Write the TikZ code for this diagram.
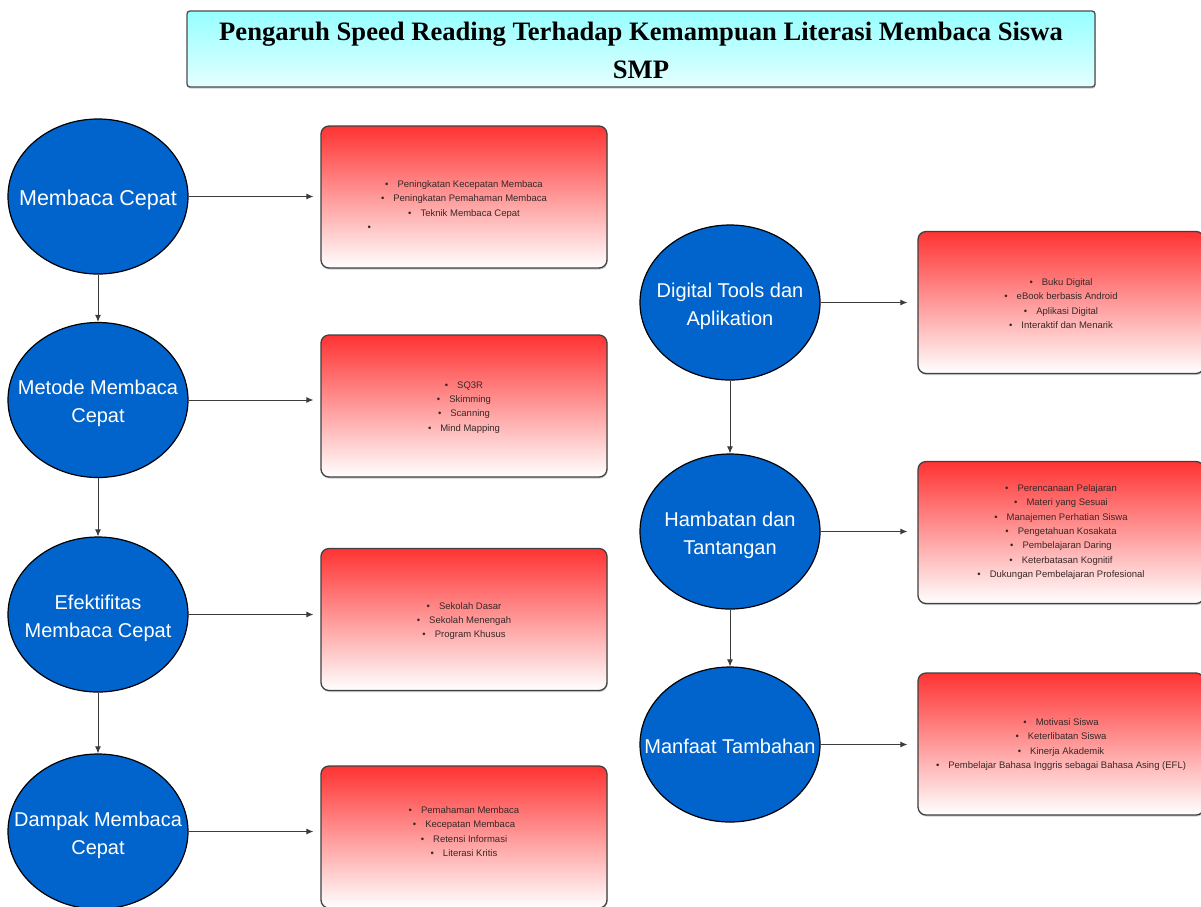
\documentclass[tikz,border=0pt]{standalone}
\usepackage{fontspec}
\setmainfont{Liberation Sans}
\newfontfamily\titlefont{Liberation Serif}
\usetikzlibrary{shapes.geometric,arrows.meta,shadows}
\definecolor{ellblue}{RGB}{0,100,204}
\definecolor{boxred}{RGB}{255,51,51}
\definecolor{titletop}{RGB}{150,255,255}
\definecolor{titlebot}{RGB}{228,255,255}
\definecolor{boxtext}{RGB}{55,40,40}
\definecolor{arrgray}{RGB}{60,60,60}
\tikzset{
  topic/.style={ellipse, draw=black, line width=1.2pt, fill=ellblue,
    minimum width=180pt, minimum height=155pt, inner sep=0pt},
  topictext/.style={text=white, align=center, inner sep=0pt, yshift=-3.5pt,
    font=\fontsize{20}{28}\selectfont},
  infobox/.style={rectangle, rounded corners=8pt, draw=black!75, line width=1.3pt,
    top color=boxred, bottom color=white, minimum width=286pt, minimum height=142pt,
    inner sep=0pt, drop shadow={shadow xshift=0.6pt, shadow yshift=-1.5pt, opacity=0.4}},
  infotext/.style={align=center, text=boxtext, inner sep=0pt,
    font=\fontsize{9.5}{14.3}\selectfont},
  titlebox/.style={rectangle, rounded corners=3pt, draw=black!70, line width=1.3pt,
    top color=titletop, bottom color=titlebot, minimum width=908pt, minimum height=76pt,
    inner sep=0pt, drop shadow={shadow xshift=0.6pt, shadow yshift=-1.5pt, opacity=0.4}},
  titletext/.style={align=center, inner sep=0pt,
    font=\titlefont\bfseries\fontsize{26.6}{38}\selectfont},
  conn/.style={draw=arrgray, line width=0.9pt, -{Latex[length=7pt,width=6pt]}},
  sideL/.style={conn, shorten >=7pt},
  sideR/.style={conn, shorten >=10pt}
}
\newcommand{\itm}[1]{\textbullet\hspace{9pt}#1}
\begin{document}
\begin{tikzpicture}[x=1pt,y=-1pt]
\clip (0,0) rectangle (1201,906);
\fill[white] (0,0) rectangle (1201,906);
% title
\node[titlebox] (title) at (641,49) {};
\node[titletext] (titlet) at (641,50) {Pengaruh Speed Reading Terhadap Kemampuan Literasi Membaca Siswa\\SMP};
% left ellipses
\node[topic] (e1) at (98,196.5) {};
\node[topictext, font=\fontsize{21.5}{28}\selectfont] at (e1) {Membaca Cepat};
\node[topic] (e2) at (98,400) {};
\node[topictext] at (e2) {Metode Membaca\\Cepat};
\node[topic] (e3) at (98,614.5) {};
\node[topictext] at (e3) {Efektifitas\\Membaca Cepat};
\node[topic] (e4) at (98,831.5) {};
\node[topictext] at (e4) {Dampak Membaca\\Cepat};
% right ellipses
\node[topic] (r1) at (730,302.5) {};
\node[topictext] at (r1) {Digital Tools dan\\Aplikation};
\node[topic] (r2) at (730,531.5) {};
\node[topictext] at (r2) {Hambatan dan\\Tantangan};
\node[topic] (r3) at (730,744.5) {};
\node[topictext, yshift=2pt] at (r3) {Manfaat Tambahan};
% left boxes
\node[infobox] (b1) at (464,197) {};
\node[infotext] at (464,205.5) {\itm{Peningkatan Kecepatan Membaca}\\\itm{Peningkatan Pemahaman Membaca}\\\itm{Teknik Membaca Cepat}\\\makebox[193pt][l]{\textbullet}};
\node[infobox] (b2) at (464,406) {};
\node[infotext] at (464,407.5) {\itm{SQ3R}\\\itm{Skimming}\\\itm{Scanning}\\\itm{Mind Mapping}};
\node[infobox] (b3) at (464,619.5) {};
\node[infotext] at (464,621) {\itm{Sekolah Dasar}\\\itm{Sekolah Menengah}\\\itm{Program Khusus}};
\node[infobox] (b4) at (464,837) {};
\node[infotext] at (464,831.5) {\itm{Pemahaman Membaca}\\\itm{Kecepatan Membaca}\\\itm{Retensi Informasi}\\\itm{Literasi Kritis}};
% right boxes
\node[infobox] (c1) at (1061,302.5) {};
\node[infotext] at (1061,303.5) {\itm{Buku Digital}\\\itm{eBook berbasis Android}\\\itm{Aplikasi Digital}\\\itm{Interaktif dan Menarik}};
\node[infobox] (c2) at (1061,532.5) {};
\node[infotext] at (1061,532) {\itm{Perencanaan Pelajaran}\\\itm{Materi yang Sesuai}\\\itm{Manajemen Perhatian Siswa}\\\itm{Pengetahuan Kosakata}\\\itm{Pembelajaran Daring}\\\itm{Keterbatasan Kognitif}\\\itm{Dukungan Pembelajaran Profesional}};
\node[infobox] (c3) at (1061,744) {};
\node[infotext] at (1061,744.5) {\itm{Motivasi Siswa}\\\itm{Keterlibatan Siswa}\\\itm{Kinerja Akademik}\\\itm{Pembelajar Bahasa Inggris sebagai Bahasa Asing (EFL)}};
% vertical connectors
\draw[conn] (e1) -- (e2);
\draw[conn] (e2) -- (e3);
\draw[conn] (e3) -- (e4);
\draw[conn] (r1) -- (r2);
\draw[conn] (r2) -- (r3);
% horizontal connectors
\draw[sideL] (e1.east) -- (e1.east -| b1.west);
\draw[sideL] (e2.east) -- (e2.east -| b2.west);
\draw[sideL] (e3.east) -- (e3.east -| b3.west);
\draw[sideL] (e4.east) -- (e4.east -| b4.west);
\draw[sideR] (r1.east) -- (r1.east -| c1.west);
\draw[sideR] (r2.east) -- (r2.east -| c2.west);
\draw[sideR] (r3.east) -- (r3.east -| c3.west);
\end{tikzpicture}
\end{document}
